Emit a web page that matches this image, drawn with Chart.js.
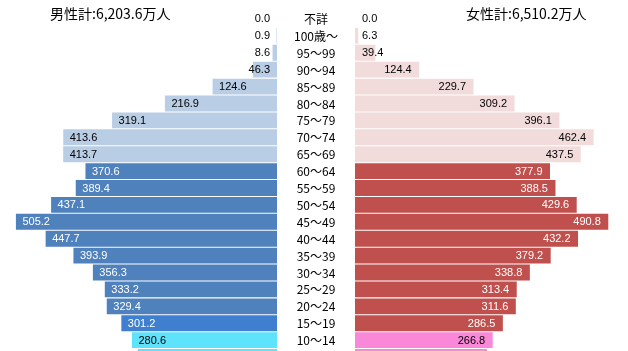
<!DOCTYPE html>
<html>
<head>
<meta charset="utf-8">
<script src="https://cdn.jsdelivr.net/npm/chart.js@4"></script>
<style>
  html, body { margin: 0; padding: 0; background: #fff; overflow: hidden; }
  #wrap { position: relative; width: 628px; height: 351px; overflow: hidden; }
  canvas { position: absolute; top: 0; }
  .ttl { position: absolute; top: 3px; font: 14px "Noto Sans CJK JP", sans-serif; color: #000; white-space: nowrap; }
</style>
</head>
<body>
<div id="wrap">
  <canvas id="maleChart" width="277" height="370" style="left:0"></canvas>
  <canvas id="femaleChart" width="351" height="370" style="left:277px"></canvas>
  <div class="ttl" style="left:50px">男性計:6,203.6万人</div>
  <div class="ttl" style="left:466px">女性計:6,510.2万人</div>
</div>
<script>
const ageGroups = ["不詳", "100歳～", "95～99", "90～94", "85～89", "80～84", "75～79",
  "70～74", "65～69", "60～64", "55～59", "50～54", "45～49", "40～44", "35～39",
  "30～34", "25～29", "20～24", "15～19", "10～14", "5～9"];
// 万人
const male = [0.0, 0.9, 8.6, 46.3, 124.6, 216.9, 319.1, 413.6, 413.7, 370.6, 389.4,
  437.1, 505.2, 447.7, 393.9, 356.3, 333.2, 329.4, 301.2, 280.6, 269.4];
const female = [0.0, 6.3, 39.4, 124.4, 229.7, 309.2, 396.1, 462.4, 437.5, 377.9, 388.5,
  429.6, 490.8, 432.2, 379.2, 338.8, 313.4, 311.6, 286.5, 266.8, 255.7];

// colour by age band: 65+ light, 15-64 dark, under 15 bright
function band(i) {
  if (i <= 8) return "old";
  if (i <= 17) return "work";
  if (i === 18) return "teen";
  return "young";
}
const maleColors = ageGroups.map((a, i) => ({
  old: "#b9cde5", work: "#4f81bd", teen: "#3f7fcf", young: "#5fe2fb"
})[band(i)]);
const femaleColors = ageGroups.map((a, i) => ({
  old: "#f2dcdb", work: "#c0504d", teen: "#c0504d", young: "#f989d8"
})[band(i)]);
const textColor = (i) => (band(i) === "work" || band(i) === "teen") ? "#fff" : "#000";

const valueFont = '11px "Liberation Sans", sans-serif';

const maleLabels = {
  id: "maleLabels",
  afterDatasetsDraw(chart) {
    const ctx = chart.ctx;
    const meta = chart.getDatasetMeta(0);
    ctx.save();
    ctx.font = valueFont;
    ctx.textBaseline = "middle";
    ctx.textAlign = "left";
    meta.data.forEach((bar, i) => {
      const txt = male[i].toFixed(1);
      const w = ctx.measureText(txt).width;
      let left = bar.x + 6.5;
      if (left + w > 270) left = 270 - w;
      ctx.fillStyle = textColor(i);
      ctx.fillText(txt, left, bar.y + 0.5);
    });
    ctx.restore();
  }
};

const femaleLabels = {
  id: "femaleLabels",
  afterDatasetsDraw(chart) {
    const ctx = chart.ctx;
    const meta = chart.getDatasetMeta(0);
    const yScale = chart.scales.y;
    const area = chart.chartArea;
    ctx.save();
    ctx.textBaseline = "middle";
    // age groups in the middle gap
    ctx.font = '12px "Noto Sans CJK JP", sans-serif';
    ctx.textAlign = "center";
    ctx.fillStyle = "#000";
    ageGroups.forEach((a, i) => {
      ctx.fillText(a, area.left - 39, yScale.getPixelForValue(i) + 0.5);
    });
    ctx.font = valueFont;
    ctx.textAlign = "right";
    meta.data.forEach((bar, i) => {
      const txt = female[i].toFixed(1);
      const w = ctx.measureText(txt).width;
      let right = bar.x - 7.5;
      if (right - w < area.left + 7) right = area.left + 7 + w;
      ctx.fillStyle = textColor(i);
      ctx.fillText(txt, right, bar.y + 0.5);
    });
    ctx.restore();
  }
};

function baseOptions(reverse, max, padLeft) {
  return {
    indexAxis: "y",
    responsive: false,
    animation: false,
    devicePixelRatio: 1,
    layout: { padding: { top: 10.5, bottom: 4.5, left: padLeft, right: 0 } },
    plugins: { legend: { display: false }, tooltip: { enabled: false } },
    scales: {
      x: { display: false, reverse: reverse, min: 0, max: max },
      y: { display: false }
    }
  };
}

new Chart(document.getElementById("maleChart"), {
  type: "bar",
  data: {
    labels: ageGroups,
    datasets: [{
      data: male,
      backgroundColor: maleColors,
      borderWidth: 0,
      barPercentage: 0.94,
      categoryPercentage: 1.0
    }]
  },
  options: baseOptions(true, 536, 0),
  plugins: [maleLabels]
});

new Chart(document.getElementById("femaleChart"), {
  type: "bar",
  data: {
    labels: ageGroups,
    datasets: [{
      data: female,
      backgroundColor: femaleColors,
      borderWidth: 0,
      barPercentage: 0.94,
      categoryPercentage: 1.0
    }]
  },
  options: baseOptions(false, 529, 78),
  plugins: [femaleLabels]
});
</script>
</body>
</html>
